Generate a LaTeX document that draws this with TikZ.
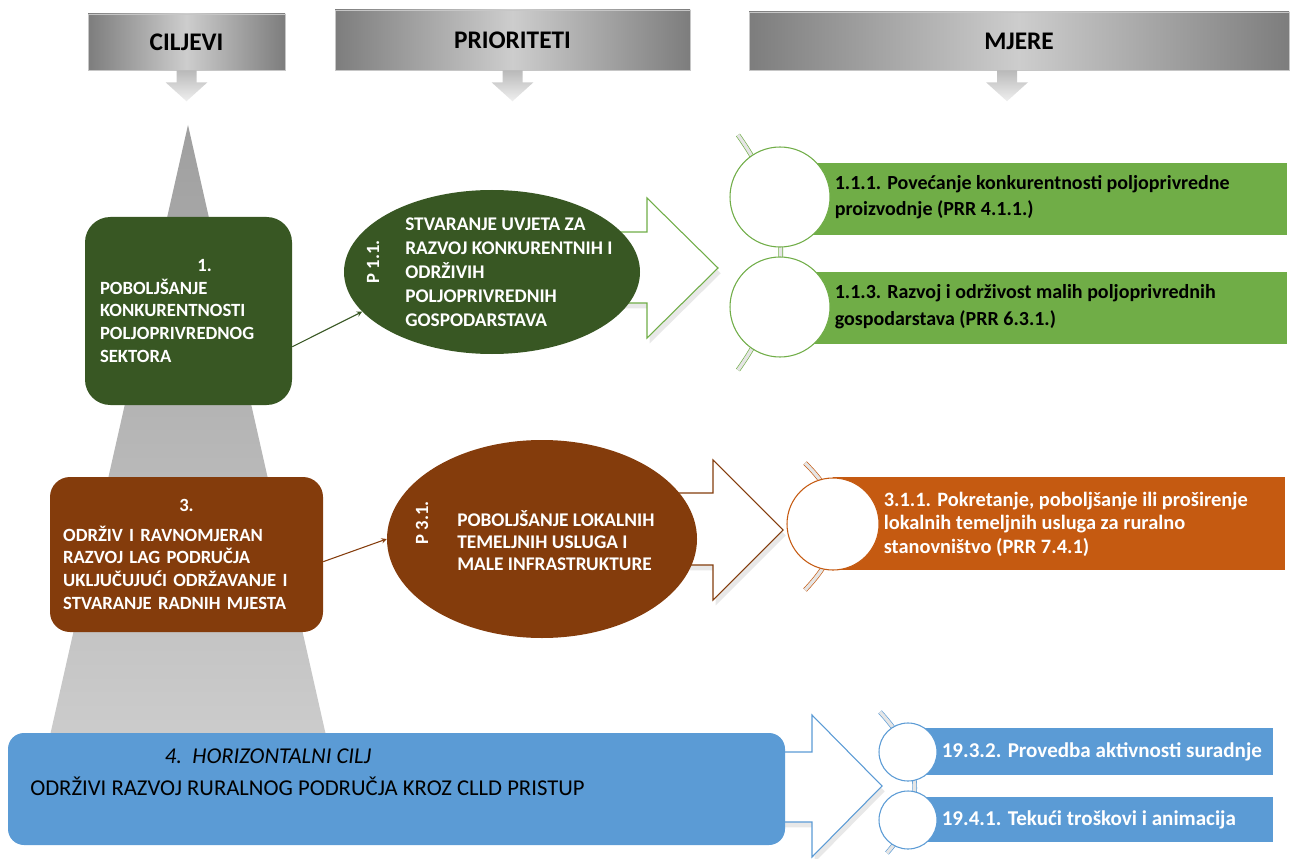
\documentclass[tikz,border=0pt]{standalone}
\usepackage{fontspec}
\setmainfont{Carlito}
\usetikzlibrary{positioning,shapes.geometric,shadows}

\definecolor{dkgreen}{RGB}{56,87,35}
\definecolor{ltgreen}{RGB}{112,173,71}
\definecolor{brownc}{RGB}{132,60,12}
\definecolor{orangec}{RGB}{197,90,17}
\definecolor{hblue}{RGB}{91,155,213}
\definecolor{hdrdark}{RGB}{125,125,125}
\definecolor{hdrlight}{RGB}{205,205,205}

\begin{document}
\begin{tikzpicture}
      [%%%%%%%%%%%%%%%%%%%%%%%%%%%%%%
      x=0.75pt, y=-0.75pt,
      sz/.style 2 args={minimum width=#1*0.75pt, minimum height=#2*0.75pt},
      header/.style={rectangle, left color=hdrdark, right color=hdrdark, middle color=hdrlight,
        draw=gray!45, inner sep=0pt, font=\bfseries\fontsize{19}{22}\selectfont},
      goal/.style={rectangle, rounded corners=18pt, fill=#1, text=white, inner sep=0pt,
        align=left, font=\bfseries\fontsize{14}{17}\selectfont},
      prio/.style={ellipse, fill=#1, inner sep=0pt},
      ptext/.style={text=white, inner sep=0pt, align=left, font=\bfseries\fontsize{14.5}{18}\selectfont},
      plabel/.style={text=white, inner sep=0pt, rotate=90, font=\bfseries\fontsize{14}{17}\selectfont},
      flow/.style={draw=#1, fill=white, line width=0.8pt, line join=miter,
        drop shadow={opacity=0.18, shadow xshift=2pt, shadow yshift=-4pt}},
      link/.style={->, >=stealth, draw=#1, line width=0.8pt},
      ring/.style={circle, draw=#1, fill=white, line width=0.8pt, inner sep=0pt},
      bar/.style={rectangle, fill=#1, inner sep=0pt},
      mtext/.style={inner sep=0pt, align=left, font=\bfseries\fontsize{15}{20}\selectfont},
      arcline/.style={draw=#1, double=gray!20, double distance=2.5pt, line width=0.5pt},
      downarr/.pic={\shade[top color=gray!55, bottom color=gray!12]
        (-10,0) -- (10,0) -- (10,12) -- (21,12) -- (0,31) -- (-21,12) -- (-10,12) -- cycle;},
      ]%%%%%%%%%%%%%%%%%%%%%%%%%%%%%%
      \useasboundingbox (0,0) rectangle (1291,859);

      % headers
      \node[header, sz={197}{56}] (hcilj) at (186.5,42) {CILJEVI};
      \node[header, sz={355}{60}] (hprio) at (512.5,40) {PRIORITETI};
      \node[header, sz={540}{58}] (hmjere) at (1019,41) {MJERE};
      \pic at (hcilj.south) {downarr};
      \pic at (hprio.south) {downarr};
      \pic at ([xshift=-9pt]hmjere.south) {downarr};

      % pyramid behind the goals
      \shade[top color=gray!75, bottom color=gray!40] (188,125) -- (327,740) -- (49,740) -- cycle;

      % big outline arrows
      \draw[flow=ltgreen] (600,232) -- (647,232) -- (647,198) -- (718,268) -- (647,338) -- (647,303) -- (600,303) -- cycle;
      \draw[flow=brownc] (650,493) -- (713,493) -- (713,460) -- (783,530) -- (713,600) -- (713,565) -- (650,565) -- cycle;
      \draw[flow=hblue] (770,752) -- (812,752) -- (812,715) -- (882,786) -- (812,857) -- (812,822) -- (770,822) -- cycle;

      % goals
      \node[goal=dkgreen, rounded corners=19pt, sz={207}{188}, text width=132.75pt] (cilj1) at (188.5,311)
        {\hspace*{73pt}1.\\POBOLJŠANJE\\KONKURENTNOSTI\\POLJOPRIVREDNOG\\SEKTORA};
      \node[goal=brownc, rounded corners=15pt, sz={273}{155}, text width=185pt] (cilj3) at (186.5,554.5)
        {\centering 3.\par\vspace{5pt}\raggedright ODRŽIV I RAVNOMJERAN\\RAZVOJ LAG PODRUČJA\\UKLJUČUJUĆI ODRŽAVANJE I\\STVARANJE RADNIH MJESTA};
      \node[goal=hblue, rounded corners=12pt, sz={777}{112}] (cilj4) at (396.5,789) {};
      \node[anchor=north west, inner sep=0pt, align=left, font=\fontsize{17}{24}\selectfont] (cilj4txt) at (30,749)
        {\hspace*{101pt}\textit{4.\ \ HORIZONTALNI CILJ}\\ODRŽIVI RAZVOJ RURALNOG PODRUČJA KROZ CLLD PRISTUP};

      % priorities
      \node[prio=dkgreen, sz={296}{164}] (prio11) at (492,272) {};
      \node[plabel] (p11lbl) at (373,262) {P 1.1.};
      \node[ptext, anchor=west] (p11txt) at (405,272)
        {STVARANJE UVJETA ZA\\RAZVOJ KONKURENTNIH I\\ODRŽIVIH\\POLJOPRIVREDNIH\\GOSPODARSTAVA};
      \node[prio=brownc, sz={310}{198}] (prio31) at (542,539) {};
      \node[plabel] (p31lbl) at (422,523) {P 3.1.};
      \node[ptext, anchor=west, font=\bfseries\fontsize{14.5}{16.5}\selectfont] (p31txt) at (457,541)
        {POBOLJŠANJE LOKALNIH\\TEMELJNIH USLUGA I\\MALE INFRASTRUKTURE};

      \draw[link=dkgreen] (cilj1.-19) -- (prio11.197);
      \draw[link=brownc] (cilj3.-3) -- (prio31.west);

      % measures, green
      \draw[arcline=ltgreen] (738,135) .. controls (795,215) and (795,290) .. (738,370);
      \node[bar=ltgreen, sz={507}{72}] (gbar1) at (1033.5,199) {};
      \node[bar=ltgreen, sz={507}{72}] (gbar2) at (1033.5,308) {};
      \node[ring=ltgreen, sz={100}{100}] (gring1) at (780,197) {};
      \node[ring=ltgreen, sz={100}{100}] (gring2) at (780,307) {};
      \node[mtext, right=3pt of gring1] (mj111) {1.1.1. Povećanje konkurentnosti poljoprivredne\\proizvodnje (PRR 4.1.1.)};
      \node[mtext, right=3pt of gring2] (mj113) {1.1.3. Razvoj i održivost malih poljoprivrednih\\gospodarstava (PRR 6.3.1.)};

      % measures, orange
      \draw[arcline=orangec] (805,463) .. controls (848,505) and (848,545) .. (805,590);
      \node[bar=orangec, sz={452}{93}] (obar) at (1059,523.5) {};
      \node[ring=orangec, sz={92}{92}] (oring) at (833,524) {};
      \node[mtext, text=white, right=3pt of oring, font=\bfseries\fontsize{15.3}{17.6}\selectfont] (mj311)
        {3.1.1. Pokretanje, poboljšanje ili proširenje\\lokalnih temeljnih usluga za ruralno\\stanovništvo (PRR 7.4.1)};

      % measures, blue
      \draw[arcline=hblue] (880,712) .. controls (925,760) and (925,810) .. (887,853);
      \node[bar=hblue, sz={365}{47}] (bbar1) at (1090.5,751.5) {};
      \node[bar=hblue, sz={365}{45}] (bbar2) at (1090.5,819.5) {};
      \node[ring=hblue, sz={58}{58}] (bring1) at (908,752) {};
      \node[ring=hblue, sz={58}{58}] (bring2) at (908,820) {};
      \node[mtext, text=white, right=3pt of bring1, font=\bfseries\fontsize{15.8}{20}\selectfont] (mj1932) {19.3.2. Provedba aktivnosti suradnje};
      \node[mtext, text=white, right=3pt of bring2, font=\bfseries\fontsize{15.8}{20}\selectfont] (mj1941) {19.4.1. Tekući troškovi i animacija};
    \end{tikzpicture}
\end{document}
